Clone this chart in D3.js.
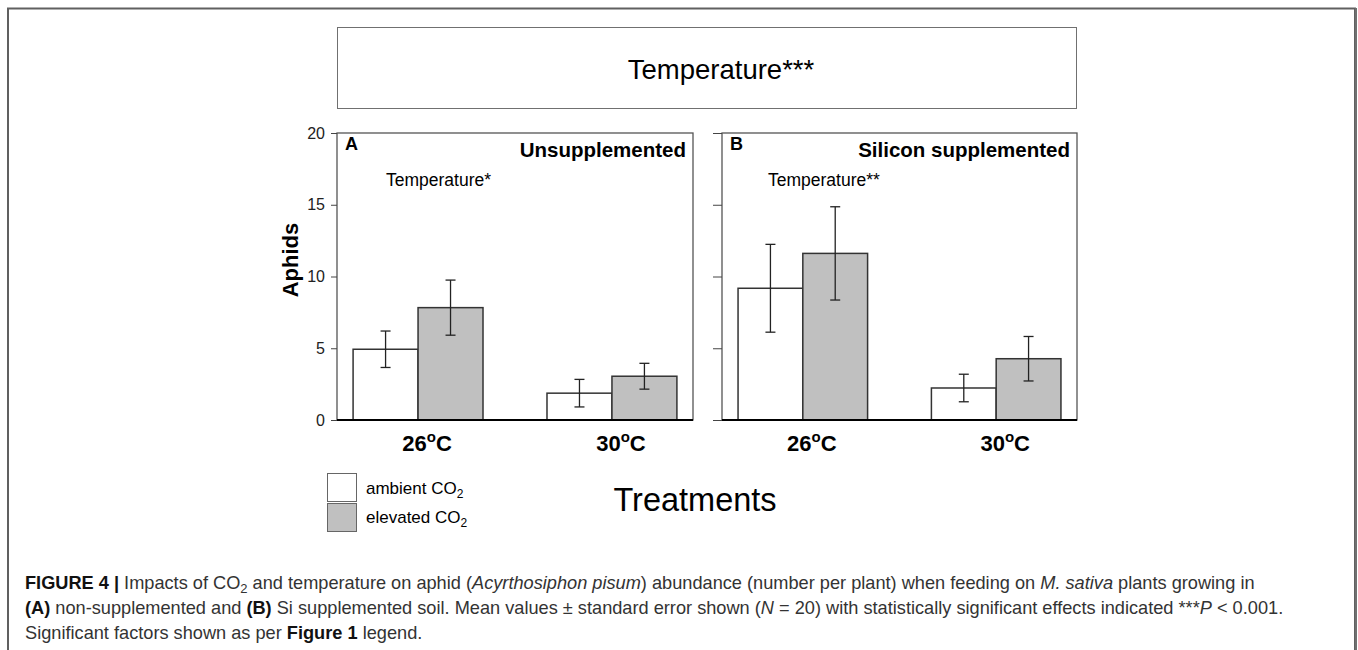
<!DOCTYPE html>
<html>
<head>
<meta charset="utf-8">
<script src="https://cdn.jsdelivr.net/npm/d3@7.9.0/dist/d3.min.js"></script>
<style>
  body { margin: 0; background: #fff; }
  svg { display: block; font-family: "Liberation Sans", Arial, sans-serif; }
</style>
</head>
<body>
<svg id="fig" width="1358" height="650"></svg>
<script>
// categories
const temps = ["26", "30"];
const series = ["ambient", "elevated"];
const panelLetters = ["A", "B"];
const panelTitles = ["Unsupplemented", "Silicon supplemented"];
const panelSig = ["Temperature*", "Temperature**"];
const yTicks = [0, 5, 10, 15, 20];

// means and standard errors
const ambientMeanA = [4.93, 1.87];
const ambientSEA = [1.27, 0.96];
const elevatedMeanA = [7.83, 3.05];
const elevatedSEA = [1.92, 0.90];
const ambientMeanB = [9.18, 2.23];
const ambientSEB = [3.06, 0.96];
const elevatedMeanB = [11.61, 4.27];
const elevatedSEB = [3.25, 1.55];

const fills = { ambient: "#ffffff", elevated: "#c0c0c0" };

const svg = d3.select("#fig");

// outer figure frame (open at the bottom)
svg.append("path")
    .attr("d", "M8,660 V8.5 H1355 V660")
    .attr("fill", "none")
    .attr("stroke", "#606060")
    .attr("stroke-width", 2);
svg.append("line")
    .attr("x1", 1356).attr("x2", 1356).attr("y1", 8).attr("y2", 660)
    .attr("stroke", "#707070").attr("stroke-width", 2);

// overall significance box
svg.append("rect")
    .attr("x", 337.5).attr("y", 27.5).attr("width", 739).attr("height", 81)
    .attr("fill", "none").attr("stroke", "#707070").attr("stroke-width", 1);
svg.append("text")
    .attr("x", 721).attr("y", 79)
    .attr("text-anchor", "middle")
    .attr("font-size", 27.5)
    .text("Temperature***");

const y = d3.scaleLinear().domain([0, 20]).range([420, 133]);

const panels = [
  { x0: 337, x1: 693, sigX: 49, amb: ambientMeanA, ambSE: ambientSEA, elev: elevatedMeanA, elevSE: elevatedSEA },
  { x0: 722, x1: 1077, sigX: 46, amb: ambientMeanB, ambSE: ambientSEB, elev: elevatedMeanB, elevSE: elevatedSEB }
];

panels.forEach((p, pi) => {
  const g = svg.append("g");

  const x = d3.scaleBand().domain(temps).range([p.x0, p.x1])
      .paddingInner(0.33).paddingOuter(0.083);
  const xs = d3.scaleBand().domain(series).range([0, x.bandwidth()]);

  // frame
  g.append("rect")
      .attr("x", p.x0).attr("y", y(20))
      .attr("width", p.x1 - p.x0).attr("height", y(0) - y(20))
      .attr("fill", "none").attr("stroke", "#555").attr("stroke-width", 1.3);

  // y axis
  const yAxis = d3.axisLeft(y).tickValues(yTicks).tickSize(6).tickPadding(6);
  if (pi === 1) yAxis.tickFormat("").tickSize(9);
  const ya = g.append("g").attr("transform", `translate(${p.x0},0)`).call(yAxis);
  ya.select(".domain").remove();
  ya.selectAll(".tick line").attr("stroke", "#444");
  ya.selectAll(".tick text").attr("font-size", 16).attr("fill", "#222")
      .attr("font-family", "Liberation Sans, Arial, sans-serif");

  // bars
  const rows = [];
  temps.forEach((t, i) => {
    rows.push({ t, s: "ambient", m: p.amb[i], se: p.ambSE[i] });
    rows.push({ t, s: "elevated", m: p.elev[i], se: p.elevSE[i] });
  });

  g.selectAll("rect.bar").data(rows).enter().append("rect")
      .attr("class", "bar")
      .attr("x", d => x(d.t) + xs(d.s))
      .attr("y", d => y(d.m))
      .attr("width", xs.bandwidth())
      .attr("height", d => y(0) - y(d.m))
      .attr("fill", d => fills[d.s])
      .attr("stroke", "#333").attr("stroke-width", 1.5);

  // error bars
  const eb = g.selectAll("g.err").data(rows).enter().append("g")
      .attr("class", "err")
      .attr("stroke", "#222").attr("stroke-width", 1.3);
  const cx = d => x(d.t) + xs(d.s) + xs.bandwidth() / 2;
  eb.append("line")
      .attr("x1", cx).attr("x2", cx)
      .attr("y1", d => y(d.m + d.se)).attr("y2", d => y(d.m - d.se));
  eb.append("line")
      .attr("x1", d => cx(d) - 5).attr("x2", d => cx(d) + 5)
      .attr("y1", d => y(d.m + d.se)).attr("y2", d => y(d.m + d.se));
  eb.append("line")
      .attr("x1", d => cx(d) - 5).attr("x2", d => cx(d) + 5)
      .attr("y1", d => y(d.m - d.se)).attr("y2", d => y(d.m - d.se));

  // baseline
  g.append("line")
      .attr("x1", p.x0).attr("x2", p.x1)
      .attr("y1", y(0)).attr("y2", y(0))
      .attr("stroke", "#000").attr("stroke-width", 2);

  // category labels
  temps.forEach(t => {
    const tx = g.append("text")
        .attr("x", x(t) + x.bandwidth() / 2 + 9).attr("y", 451)
        .attr("text-anchor", "middle")
        .attr("font-size", 22).attr("font-weight", "bold");
    tx.append("tspan").text(t);
    tx.append("tspan").attr("dy", -9).attr("font-size", 15).text("o");
    tx.append("tspan").attr("dy", 9).text("C");
  });

  // panel annotations
  g.append("text").attr("x", p.x0 + 8).attr("y", 150)
      .attr("font-size", 18).attr("font-weight", "bold").text(panelLetters[pi]);
  g.append("text").attr("x", p.x1 - 7).attr("y", 157)
      .attr("text-anchor", "end")
      .attr("font-size", 20.5).attr("font-weight", "bold").text(panelTitles[pi]);
  g.append("text").attr("x", p.x0 + p.sigX).attr("y", 186)
      .attr("font-size", 17.5).text(panelSig[pi]);
});

// y axis title
svg.append("text")
    .attr("transform", "translate(298,260) rotate(-90)")
    .attr("text-anchor", "middle")
    .attr("font-size", 22).attr("font-weight", "bold")
    .text("Aphids");

// legend
const legendLabels = ["ambient CO", "elevated CO"];
series.forEach((s, i) => {
  svg.append("rect")
      .attr("x", 327.5).attr("y", 473.5 + i * 30)
      .attr("width", 29).attr("height", 28)
      .attr("fill", fills[s]).attr("stroke", "#666").attr("stroke-width", 1);
  const t = svg.append("text")
      .attr("x", 366).attr("y", 494 + i * 29)
      .attr("font-size", 17);
  t.append("tspan").text(legendLabels[i]);
  t.append("tspan").attr("dy", 4).attr("font-size", 12).text("2");
});

// x axis title
svg.append("text")
    .attr("x", 695).attr("y", 511)
    .attr("text-anchor", "middle")
    .attr("font-size", 32.5)
    .text("Treatments");

// caption
const cap = svg.append("g")
    .attr("font-size", 18.2).attr("fill", "#333");
function line(yy, parts) {
  const t = cap.append("text").attr("x", 25).attr("y", yy);
  parts.forEach(([txt, style]) => {
    const ts = t.append("tspan").text(txt);
    if (style === "b") ts.attr("font-weight", "bold").attr("fill", "#111");
    if (style === "i") ts.attr("font-style", "italic");
    if (style === "sub") ts.attr("dy", 4).attr("font-size", 13);
    if (style === "up") ts.attr("dy", -4);
  });
}
line(589, [
  ["FIGURE 4 | ", "b"], ["Impacts of CO"], ["2", "sub"],
  [" and temperature on aphid (", "up"], ["Acyrthosiphon pisum", "i"],
  [") abundance (number per plant) when feeding on "], ["M. sativa", "i"],
  [" plants growing in"]
]);
line(614, [
  ["(A)", "b"], [" non-supplemented and "], ["(B)", "b"],
  [" Si supplemented soil. Mean values \u00b1 standard error shown ("], ["N", "i"],
  [" = 20) with statistically significant effects indicated ***"], ["P", "i"],
  [" < 0.001."]
]);
line(639, [
  ["Significant factors shown as per "], ["Figure 1", "b"], [" legend."]
]);
</script>
</body>
</html>
